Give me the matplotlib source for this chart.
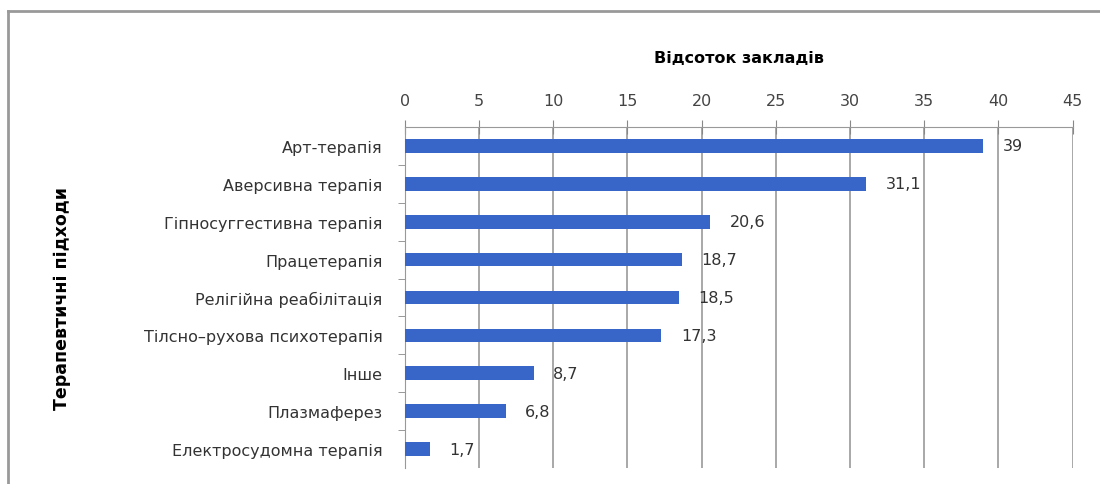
import matplotlib.pyplot as plt
from matplotlib.lines import Line2D

categories = [
    "Арт-терапія",
    "Аверсивна терапія",
    "Гіпносуггестивна терапія",
    "Працетерапія",
    "Релігійна реабілітація",
    "Тілсно–рухова психотерапія",
    "Інше",
    "Плазмаферез",
    "Електросудомна терапія",
]
values = [39, 31.1, 20.6, 18.7, 18.5, 17.3, 8.7, 6.8, 1.7]
x_ticks = [0, 5, 10, 15, 20, 25, 30, 35, 40, 45]

fig = plt.figure(figsize=(11, 4.85), dpi=100)
ax = fig.add_axes([0.368, 0.033, 0.607, 0.703])

pos = list(range(len(categories)))
ax.barh(pos, values, height=0.36, color="#3766c8", zorder=3)
ax.set_ylim(len(categories) - 0.5, -0.5)
ax.set_xlim(0, 45)

# значення біля стовпців
for p, v in zip(pos, values):
    txt = f"{v:g}".replace(".", ",")
    ax.annotate(txt, (v, p), xytext=(14, 0), textcoords="offset points",
                va="center", ha="left", fontsize=11.5, color="#333333", zorder=4)

ax.xaxis.tick_top()
ax.xaxis.set_label_position("top")
ax.set_xticks(x_ticks)
ax.set_xticklabels([str(t) for t in x_ticks], fontsize=11.5, color="#444444")
ax.tick_params(axis="x", direction="inout", length=10, color="#888888", pad=9)
ax.set_xlabel("Відсоток закладів", fontsize=11.5, fontweight="bold", labelpad=22)

ax.set_yticks(pos)
ax.set_yticklabels(categories, fontsize=11.5, color="#333333")
ax.set_yticks([p + 0.5 for p in pos[:-1]], minor=True)
ax.tick_params(axis="y", which="major", length=0, pad=16)
ax.tick_params(axis="y", which="minor", length=5, color="#888888")
ax.set_ylabel("Терапевтичні підходи", fontsize=12.5, fontweight="bold")
ax.yaxis.set_label_coords(-0.5, 0.5)

ax.grid(axis="x", color="#999999", linewidth=1.2, zorder=0)
for side in ["right", "bottom"]:
    ax.spines[side].set_visible(False)
ax.spines["top"].set_color("#999999")
ax.spines["left"].set_color("#999999")

# рамка навколо діаграми
fig.add_artist(Line2D([0.007, 1.0], [0.975, 0.975], transform=fig.transFigure,
                      color="#999999", linewidth=2))
fig.add_artist(Line2D([0.007, 0.007], [0.0, 0.975], transform=fig.transFigure,
                      color="#999999", linewidth=2))

fig.savefig("out.png", dpi=100)
